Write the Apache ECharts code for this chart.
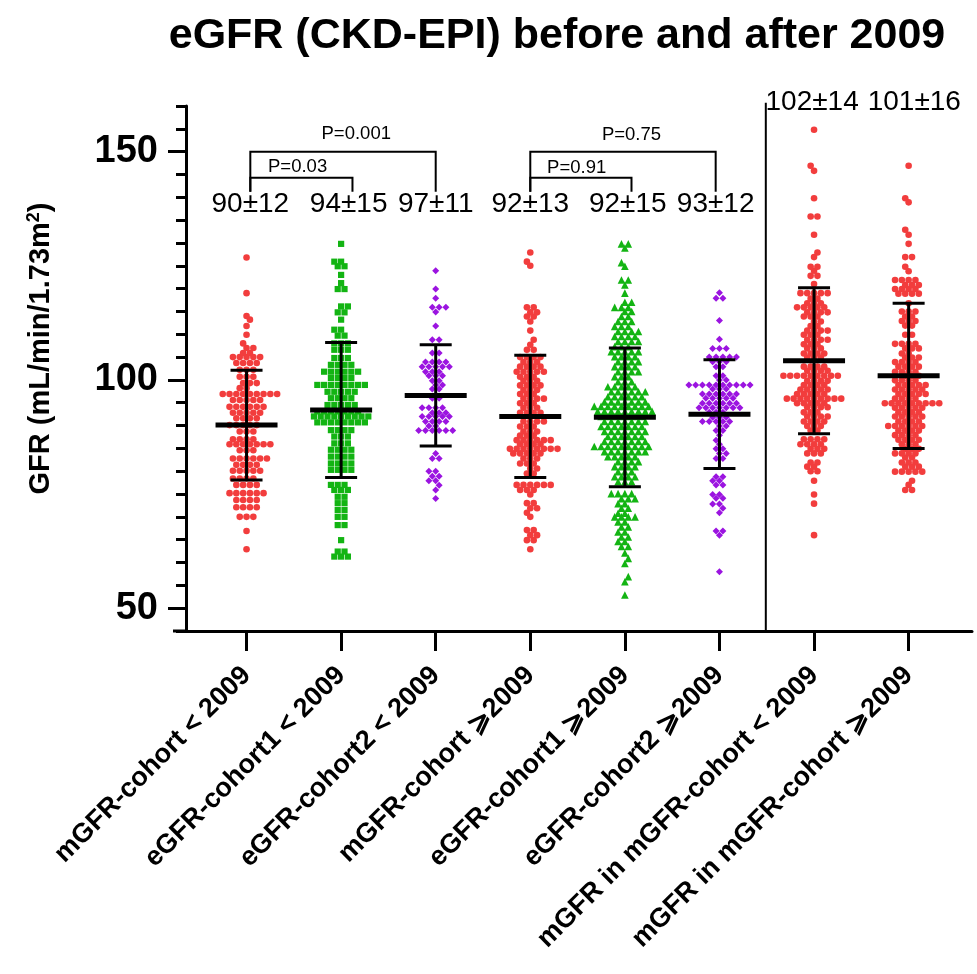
<!DOCTYPE html>
<html>
<head>
<meta charset="utf-8">
<script src="https://cdn.jsdelivr.net/npm/echarts@6/dist/echarts.min.js"></script>
<style>
  html, body { margin: 0; padding: 0; background: #fff; }
  #main { width: 977px; height: 974px; }
</style>
</head>
<body>
<div id="main"></div>
<script>
var categories = [
  'mGFR-cohort < 2009',
  'eGFR-cohort1 < 2009',
  'eGFR-cohort2 < 2009',
  'mGFR-cohort \u2A7E2009',
  'eGFR-cohort1 \u2A7E2009',
  'eGFR-cohort2 \u2A7E2009',
  'mGFR in mGFR-cohort < 2009',
  'mGFR in mGFR-cohort \u2A7E2009'
];
var summaryLabels = ['90\u00B112', '94\u00B115', '97\u00B111', '92\u00B113', '92\u00B115', '93\u00B112', '102\u00B114', '101\u00B116'];
var meanValues = [90.1, 93.4, 96.6, 92.0, 91.8, 92.5, 104.2, 100.9];
var sdValues = [12.0, 14.8, 11.1, 13.4, 15.2, 11.9, 16.0, 15.9];
var pLabels = ['P=0.001', 'P=0.03', 'P=0.75', 'P=0.91'];
var yTickValues = [50, 100, 150];

// rows of the dot plot: [GFR, number of dots in the row]
var mgfrPre = [[126.8,1],[119.0,1],[114.0,1],[113.2,1],[111.8,1],[109.9,1],[108.0,1],[107.0,2],[105.9,2],[105.0,5],[103.7,4],[102.2,3],[100.7,3],[99.3,3],[98.2,2],[96.9,9],[95.6,5],[94.1,6],[92.8,5],[91.6,4],[90.1,5],[88.7,3],[87.0,4],[85.9,7],[84.6,3],[82.8,6],[81.4,4],[80.1,5],[78.4,4],[77.0,4],[75.2,6],[73.7,4],[72.1,4],[70.0,3],[66.9,1],[62.9,1]];
var egfr1Pre = [[129.8,1],[125.9,2],[124.9,2],[123.0,1],[121.2,1],[119.9,2],[116.1,2],[114.8,2],[113.2,1],[111.0,2],[109.7,2],[108.0,3],[106.6,3],[104.8,3],[103.3,4],[101.8,6],[100.4,4],[98.9,8],[97.4,5],[96.0,4],[94.5,5],[93.1,7],[92.0,9],[90.7,8],[89.0,4],[87.6,3],[86.1,3],[84.7,4],[83.2,4],[81.7,4],[80.3,4],[77.0,3],[75.9,3],[74.4,2],[73.0,2],[71.5,2],[70.0,2],[68.2,2],[64.9,1],[62.4,2],[61.3,3]];
var egfr2Pre = [[123.9,1],[119.9,1],[117.9,1],[115.9,3],[114.9,1],[111.8,1],[108.8,2],[105.9,2],[103.9,4],[102.9,5],[101.8,3],[100.9,3],[99.8,2],[98.9,2],[98.0,2],[96.0,2],[93.9,4],[92.8,3],[92.0,5],[90.9,4],[89.9,2],[88.9,6],[83.9,1],[82.8,2],[80.0,2],[78.9,2],[77.9,2],[76.9,1],[75.9,1],[74.0,1]];
var mgfrPost = [[127.9,1],[125.9,1],[125.0,1],[115.9,2],[114.8,2],[113.9,2],[112.8,1],[110.8,1],[108.8,1],[107.7,1],[106.6,2],[105.0,4],[103.9,3],[102.9,4],[101.8,5],[100.7,3],[99.8,3],[98.8,4],[97.8,3],[96.9,3],[95.9,4],[94.9,3],[93.9,3],[92.8,4],[90.9,4],[89.8,3],[88.7,3],[87.8,3],[86.8,6],[85.9,4],[84.9,8],[83.9,5],[82.8,3],[81.7,3],[80.6,2],[79.5,2],[77.0,6],[75.9,3],[74.9,1],[73.0,2],[71.9,2],[70.9,1],[70.0,1],[67.1,2],[66.0,2],[64.9,2],[62.9,1]];
var egfr1Post = [[129.8,2],[128.9,1],[125.7,1],[124.9,1],[121.9,2],[120.8,1],[119.0,1],[117.0,2],[115.9,3],[115.0,2],[113.9,2],[112.8,3],[111.7,3],[110.6,4],[109.5,4],[108.4,4],[107.3,3],[106.2,5],[105.1,4],[104.0,4],[102.9,4],[101.8,4],[100.7,3],[99.6,3],[98.5,5],[97.4,6],[96.3,6],[95.2,7],[94.2,9],[93.1,9],[92.0,7],[90.9,7],[89.8,7],[88.7,7],[87.6,6],[86.5,7],[85.4,9],[84.3,7],[83.2,5],[82.1,4],[81.0,4],[79.9,3],[78.8,4],[77.7,3],[75.1,4],[74.0,3],[72.9,2],[71.9,2],[70.8,2],[70.0,4],[68.9,2],[67.8,2],[66.7,2],[65.6,2],[64.6,2],[63.5,2],[62.1,1],[60.9,1],[59.8,1],[56.9,1],[55.8,1],[52.9,1]];
var egfr2Post = [[119.1,1],[117.9,2],[113.0,1],[108.9,1],[106.9,3],[105.0,5],[104.0,3],[102.9,2],[100.9,2],[100.0,2],[98.9,10],[98.0,3],[96.9,6],[96.0,5],[94.9,6],[93.9,7],[92.9,3],[91.8,3],[90.9,5],[89.9,2],[88.9,2],[87.9,1],[86.8,1],[85.9,1],[84.9,2],[83.9,2],[82.8,2],[78.8,2],[77.9,2],[77.0,2],[74.9,2],[74.1,2],[72.8,2],[71.9,1],[70.9,1],[66.9,2],[66.0,1],[58.0,1]];
var mgfrInPre = [[154.8,1],[146.9,1],[145.8,1],[139.8,1],[135.8,2],[131.8,1],[127.9,1],[126.9,1],[124.8,2],[123.9,1],[122.8,2],[121.0,1],[119.0,5],[117.8,2],[116.8,3],[115.9,5],[114.8,4],[113.9,3],[112.8,2],[111.8,2],[110.8,4],[109.9,3],[108.8,4],[107.8,3],[106.9,3],[105.8,4],[104.9,3],[102.9,4],[102.0,4],[100.9,9],[99.8,4],[98.9,4],[97.9,5],[96.9,5],[95.9,9],[94.9,5],[94.0,4],[92.9,3],[92.0,4],[90.9,4],[89.9,3],[88.9,2],[87.0,4],[85.9,4],[84.9,3],[83.9,3],[81.9,2],[81.0,2],[80.0,2],[77.9,1],[74.9,1],[72.9,1],[66.0,1]];
var mgfrInPost = [[146.9,1],[139.8,1],[138.9,1],[132.9,1],[131.8,1],[129.8,1],[126.9,2],[124.8,1],[123.8,1],[121.9,4],[120.8,3],[119.9,4],[118.9,4],[116.8,1],[115.0,3],[113.9,2],[112.9,3],[111.9,2],[109.9,2],[107.9,4],[106.9,3],[105.8,2],[104.9,3],[103.9,4],[102.9,4],[101.8,4],[100.9,3],[99.9,4],[98.9,5],[97.9,5],[96.9,5],[95.9,4],[94.9,9],[93.9,5],[92.9,4],[92.0,5],[90.9,4],[89.9,6],[88.9,4],[87.9,4],[86.9,4],[85.9,3],[84.9,3],[83.9,4],[83.0,2],[81.9,3],[81.0,3],[79.9,5],[77.9,1],[77.0,1],[75.9,2]];

var groupRows = [mgfrPre, egfr1Pre, egfr2Pre, mgfrPost, egfr1Post, egfr2Post, mgfrInPre, mgfrInPost];
var groupSymbols = ['circle', 'rect', 'diamond', 'circle', 'triangle', 'diamond', 'circle', 'circle'];
var groupSizes = [6.6, 6.2, 7, 6.6, 7.6, 7, 6.6, 6.6];
var groupColors = ['#f23d3d', '#13b413', '#9b14e0', '#f23d3d', '#13b413', '#9b14e0', '#f23d3d', '#f23d3d'];
var DOT_GAP = 6.8; // px between neighbours in a row

var FONT = '"Liberation Sans", Arial, Helvetica, sans-serif';

var chart = echarts.init(document.getElementById('main'), null, { renderer: 'canvas' });

function renderErrorBar(params, api) {
  var x = api.value(0), m = api.value(1), s = api.value(2);
  var c = api.coord([x, m]);
  var hi = api.coord([x, m + s]);
  var lo = api.coord([x, m - s]);
  var st = { stroke: '#000', lineWidth: 3 };
  return {
    type: 'group',
    children: [
      { type: 'line', shape: { x1: c[0], y1: hi[1], x2: c[0], y2: lo[1] }, style: st },
      { type: 'line', shape: { x1: c[0] - 16, y1: hi[1], x2: c[0] + 16, y2: hi[1] }, style: st },
      { type: 'line', shape: { x1: c[0] - 16, y1: lo[1], x2: c[0] + 16, y2: lo[1] }, style: st },
      { type: 'line', shape: { x1: c[0] - 31, y1: c[1], x2: c[0] + 31, y2: c[1] }, style: { stroke: '#000', lineWidth: 5 } }
    ]
  };
}

// bracket: [x left, x right, y of bar, y where the legs end]
var brackets = [[1.04, 3.0, 150.0, 141.2], [1.04, 2.12, 144.3, 141.2], [4.0, 5.96, 150.0, 141.2], [4.0, 5.07, 144.3, 141.2]];
// where the texts sit: [x, y]
var pTextPos = [[2.16, 153.8], [1.54, 146.6], [5.07, 153.6], [4.49, 146.4]];
var summaryPos = [[1.04, 138.4], [2.08, 138.4], [3.0, 138.4], [4.0, 138.4], [5.03, 138.4], [5.96, 138.4], [6.98, 160.8], [8.06, 160.8]];

function renderBracket(params, api) {
  var a = api.coord([api.value(0), api.value(2)]);
  var b = api.coord([api.value(1), api.value(2)]);
  var d = api.coord([api.value(0), api.value(3)]);
  return {
    type: 'polyline',
    shape: { points: [[a[0], d[1]], a, b, [b[0], d[1]]] },
    style: { stroke: '#000', lineWidth: 2, fill: null }
  };
}

function makeTextRender(texts, size) {
  return function (params, api) {
    var p = api.coord([api.value(0), api.value(1)]);
    return {
      type: 'text',
      x: p[0], y: p[1],
      style: { text: texts[params.dataIndex], font: size + 'px ' + FONT, fill: '#000', align: 'center', verticalAlign: 'middle' }
    };
  };
}

function renderDivider(params, api) {
  var a = api.coord([api.value(0), 45]);
  var b = api.coord([api.value(0), 160.7]);
  return { type: 'line', shape: { x1: a[0], y1: a[1], x2: b[0], y2: b[1] }, style: { stroke: '#000', lineWidth: 2 } };
}

var option = {
  animation: false,
  backgroundColor: '#fff',
  grid: { left: 186, right: 5, top: 106, bottom: 343 },
  graphic: [
    {
      type: 'text', x: 557, y: 36,
      style: { text: 'eGFR (CKD-EPI) before and after 2009', font: 'bold 43px ' + FONT, fill: '#000', align: 'center', verticalAlign: 'middle' }
    },
    {
      type: 'line', shape: { x1: 173, y1: 631, x2: 187, y2: 631 }, style: { stroke: '#000', lineWidth: 3 }
    }
  ],
  xAxis: {
    type: 'value', min: 0.36, max: 8.67,
    splitLine: { show: false },
    axisLine: { lineStyle: { color: '#000', width: 3 } },
    axisTick: { customValues: [1, 2, 3, 4, 5, 6, 7, 8], length: 20, lineStyle: { color: '#000', width: 3 } },
    axisLabel: {
      customValues: [1, 2, 3, 4, 5, 6, 7, 8],
      rotate: 45, margin: 40,
      color: '#000', fontWeight: 'bold', fontSize: 27, fontFamily: FONT,
      formatter: function (v) { return categories[Math.round(v) - 1]; }
    }
  },
  yAxis: [
    {
      type: 'value', min: 45, max: 160,
      name: '{a|GFR (mL/min/1.73m}{s|2}{a|)}',
      nameLocation: 'middle', nameGap: 129,
      nameTextStyle: {
        padding: [0, 0, 0, 40],
        rich: {
          a: { fontSize: 29, fontWeight: 'bold', fontFamily: FONT, color: '#000' },
          s: { fontSize: 18, fontWeight: 'bold', fontFamily: FONT, color: '#000', padding: [0, 0, 14, 0] }
        }
      },
      splitLine: { show: false },
      axisLine: { lineStyle: { color: '#000', width: 3 } },
      axisTick: { customValues: yTickValues, length: 18, lineStyle: { color: '#000', width: 3 } },
      axisLabel: { customValues: yTickValues, margin: 28, color: '#000', fontWeight: 'bold', fontSize: 38, fontFamily: FONT }
    },
    {
      type: 'value', min: 45, max: 160, interval: 5, position: 'left',
      splitLine: { show: false },
      axisLine: { show: false },
      axisLabel: { show: false },
      axisTick: { length: 10, lineStyle: { color: '#000', width: 3 } }
    }
  ],
  series: []
};

chart.setOption(option);

// rows are laid on a staggered lattice: a row close to the previous one
// uses the half-step positions so the dots interleave
var pxPerX = chart.convertToPixel({ xAxisIndex: 0 }, 2) - chart.convertToPixel({ xAxisIndex: 0 }, 1);
var pxPerY = chart.convertToPixel({ yAxisIndex: 0 }, 50) - chart.convertToPixel({ yAxisIndex: 0 }, 100);

function rowLayout(rows, cat, size) {
  var sorted = rows.slice().sort(function (a, b) { return a[0] - b[0]; });
  var out = [];
  var prevPy = null, prevLat = 0, flip = 1;
  sorted.forEach(function (r) {
    var n = r[1];
    var py = r[0] * pxPerY / 50;
    var lat;
    if (prevPy !== null && Math.abs(py - prevPy) < size) lat = 1 - prevLat;
    else lat = n % 2 === 1 ? 0 : 1;
    var offs = [];
    if (lat === 0) {
      offs.push(0);
      for (var k = 1; offs.length < n; k++) {
        offs.push(k * flip * DOT_GAP);
        if (offs.length < n) offs.push(-k * flip * DOT_GAP);
      }
    } else {
      for (var j = 0; offs.length < n; j++) {
        offs.push((j + 0.5) * flip * DOT_GAP);
        if (offs.length < n) offs.push(-(j + 0.5) * flip * DOT_GAP);
      }
    }
    flip = -flip;
    offs.forEach(function (o) { out.push([cat + o / pxPerX, r[0]]); });
    prevPy = py;
    prevLat = lat;
  });
  return out;
}

var series = [];
groupRows.forEach(function (rows, i) {
  series.push({
    type: 'scatter',
    name: categories[i],
    symbol: groupSymbols[i],
    symbolSize: groupSizes[i],
    itemStyle: { color: groupColors[i], opacity: 1 },
    data: rowLayout(rows, i + 1, groupSizes[i]),
    z: 2,
    silent: true
  });
});

series.push({
  type: 'custom', name: 'mean-sd', renderItem: renderErrorBar, z: 5, silent: true,
  data: meanValues.map(function (m, i) { return [i + 1, m, sdValues[i]]; })
});
series.push({ type: 'custom', name: 'brackets', renderItem: renderBracket, z: 5, silent: true, data: brackets });
series.push({ type: 'custom', name: 'p', renderItem: makeTextRender(pLabels, 18.5), z: 5, silent: true, data: pTextPos });
series.push({ type: 'custom', name: 'summary', renderItem: makeTextRender(summaryLabels, 28), z: 5, silent: true, data: summaryPos });
series.push({ type: 'custom', name: 'divider', renderItem: renderDivider, z: 5, silent: true, data: [[6.49]] });

chart.setOption({ series: series });
</script>
</body>
</html>
